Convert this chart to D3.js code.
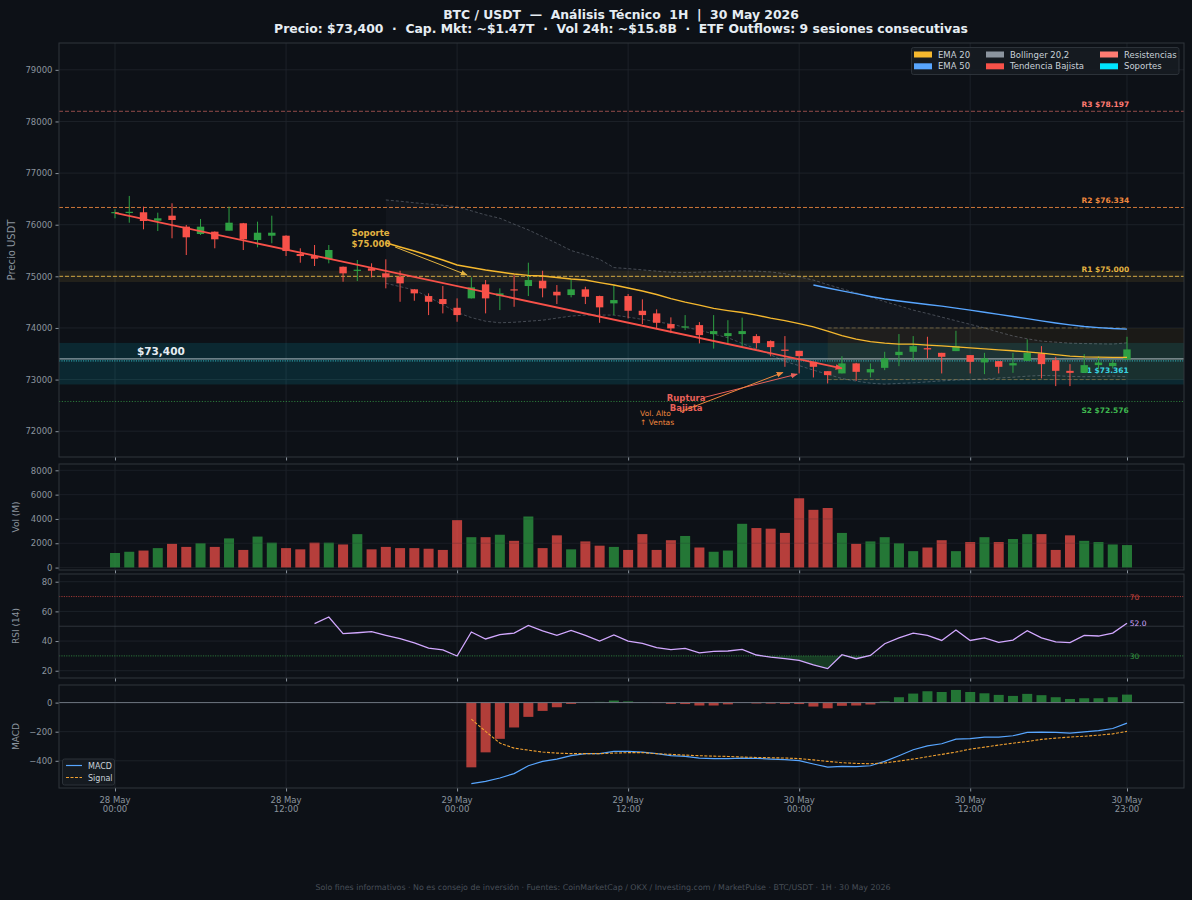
<!DOCTYPE html>
<html>
<head>
<meta charset="utf-8">
<script src="https://cdn.jsdelivr.net/npm/d3@7"></script>
<style>
  body { margin: 0; background: #0d1117; }
  svg { display: block; font-family: "DejaVu Sans", sans-serif; }
</style>
</head>
<body>
<svg id="chart" width="1192" height="900"></svg>
<script>
// hourly candles, 28 May 00:00 -> 30 May 23:00
var openP  = [76235,76230,76241,76078,76175,75962,75820,75865,75884,76028,75704,75787,75787,75432,75393,75329,75186,75115,75155,75058,
              74992,74748,74618,74560,74391,74573,74845,74618,74748,74812,74915,74701,74637,74748,74618,74476,74618,74333,74282,74075,
              74010,74055,73881,73842,73881,73842,73745,73580,73557,73344,73163,73119,73313,73138,73227,73474,73538,73609,73518,73551,
              73474,73332,73357,73274,73363,73507,73377,73169,73130,73280,73260,73390];
var highP  = [76300,76557,76350,76233,76415,75995,76111,75870,76350,76035,76059,76175,75795,75543,75607,75607,75190,75316,75252,75329,
              75108,74755,74670,74812,74573,74980,74928,74767,75025,75264,75108,74831,74942,74798,74625,74831,74657,74554,74360,74205,
              74249,74113,74249,74150,74200,73880,73760,73842,73557,73344,73163,73454,73324,73313,73538,73881,73842,73829,73518,73945,
              73474,73518,73357,73518,73778,73648,73441,73299,73493,73450,73390,73829];
var lowP   = [76125,76039,75911,75878,75737,75413,75800,75543,75884,75510,75562,75640,75393,75264,75200,75252,74895,74909,74980,74767,
              74507,74527,74249,74282,74120,74570,74282,74346,74410,74618,74593,74463,74593,74463,74100,74249,74185,74075,73991,73900,
              73958,73700,73600,73700,73650,73600,73450,73247,73119,73041,72925,73119,72975,73041,73183,73260,73363,73410,73119,73551,
              73119,73105,73119,73130,73363,73022,72873,72873,73130,73200,73216,73390];
var closeP = [76245,76250,76072,76124,76091,75756,75962,75717,76039,75717,75845,75845,75490,75393,75341,75510,75058,75128,75108,74980,
              74864,74670,74507,74463,74249,74787,74573,74670,74728,74928,74767,74631,74748,74604,74399,74540,74333,74249,74100,73991,
              74030,73861,73939,73900,73939,73706,73629,73560,73454,73247,73086,73313,73150,73202,73410,73538,73648,73584,73441,73648,
              73344,73410,73247,73318,73518,73299,73169,73130,73280,73330,73324,73584];
var volume = [1200,1300,1400,1600,1950,1700,2000,1700,2400,1450,2550,2050,1600,1500,2050,2050,1900,2750,1500,1700,
              1600,1600,1550,1450,3900,2500,2500,2700,2200,4200,1600,2650,1500,2150,1800,1700,1450,2750,1450,2250,
              2600,1650,1300,1400,3600,3250,3200,2850,5700,4750,4900,2850,1950,2150,2500,2000,1350,1650,2250,1350,
              2100,2500,2100,2350,2750,2750,1450,2650,2200,2100,1900,1850];

// indicators (first valid hour noted)
var ema20Start = 19;
var ema20 = [75650,75568,75490,75403,75316,75219,75170,75122,75083,75044,75019,75006,74977,74947,74928,74879,74831,74773,74715,74647,
             74569,74501,74443,74379,74336,74298,74249,74191,74143,74084,74022,73939,73852,73784,73735,73706,73687,73687,73668,73652,
             73633,73613,73594,73575,73557,73536,73512,73483,73454,73439,73435,73429,73429];
var ema50Start = 49;
var ema50 = [74831,74775,74718,74664,74610,74560,74522,74488,74455,74422,74385,74346,74305,74263,74221,74180,74138,74097,74060,74027,
             74007,73989,73978];
var bbStart = 19;
var bbUpper = [76479,76455,76425,76400,76378,76345,76270,76190,76125,76010,75900,75770,75640,75500,75420,75330,75170,75150,75125,75100,
               75080,75072,75080,75089,75098,75105,75100,75085,75050,74990,74928,74840,74760,74680,74600,74510,74430,74346,74280,74210,
               74140,74070,74000,73920,73845,73790,73745,73725,73705,73698,73693,73688,73712];
var bbLower = [74864,74800,74734,74600,74450,74300,74200,74130,74100,74110,74130,74150,74190,74230,74249,74249,74249,74210,74165,74120,
               74075,74010,73960,73880,73810,73700,73590,73480,73350,73270,73183,73100,73020,72970,72930,72911,72925,72937,72955,72975,
               72990,73000,73010,73030,73045,73065,73080,73075,73060,73055,73060,73067,73053];
var rsiStart = 14;
var rsi = [51.7,56.2,45.0,45.6,46.3,43.9,41.6,38.7,35.3,34.0,29.9,46.1,41.4,44.3,45.4,50.5,46.8,43.8,47.2,43.8,
           40.0,44.1,40.0,38.4,35.5,34.2,35.0,32.1,33.0,33.3,34.4,30.6,29.2,28.1,27.0,23.9,21.4,30.8,28.1,30.3,
           38.2,42.1,45.4,43.8,40.4,47.4,40.4,42.1,39.1,40.7,47.0,42.1,39.4,38.9,43.8,43.4,45.4,52.0];
var macdStart = 25;
var macdLine = [-557,-541,-518,-488,-434,-404,-388,-365,-351,-351,-335,-335,-340,-351,-365,-370,-381,-385,-385,-381,
                -383,-388,-392,-399,-422,-443,-438,-440,-434,-404,-365,-324,-297,-283,-251,-247,-237,-237,-228,-205,
                -203,-205,-210,-201,-192,-178,-141];
var signalLine = [-114,-198,-278,-313,-327,-340,-347,-351,-351,-351,-347,-344,-344,-351,-356,-361,-365,-368,-370,-374,
                  -377,-379,-381,-385,-394,-404,-413,-418,-420,-415,-402,-388,-372,-356,-340,-320,-306,-292,-279,-267,
                  -253,-244,-237,-231,-224,-215,-198];
var macdHist = [-445,-342,-249,-171,-98,-57,-32,-9,3,5,14,8,2,-3,-9,-10,-20,-20,-12,-1,
                -6,-7,-9,-10,-27,-39,-22,-20,-13,8,37,62,78,73,87,73,64,53,46,60,
                51,37,25,30,30,37,55];

// levels
var levels = [
  {name: "R3", price: 78197, text: "R3 $78.197", color: "#ff7b72", dash: "4,2", alpha: 0.55, above: true},
  {name: "R2", price: 76334, text: "R2 $76.334", color: "#f0883e", dash: "4,2", alpha: 0.85, above: true},
  {name: "R1", price: 75000, text: "R1 $75.000", color: "#e3b341", dash: "4,2", alpha: 0.9, above: true},
  {name: "S1", price: 73361, text: "S1 $73.361", color: "#39d5e0", dash: "1.2,1.2", alpha: 0.8, above: false},
  {name: "S2", price: 72576, text: "S2 $72.576", color: "#3fb950", dash: "1.2,1.6", alpha: 0.6, above: false}
];
var currentPrice = 73400;
var priceTicks = [72000,73000,74000,75000,76000,77000,78000,79000];
var volTicks = [0,2000,4000,6000,8000];
var rsiTicks = [20,40,60,80];
var macdTicks = [-400,-200,0];
var tickHours = [0,12,24,36,48,60,71];

var UP = "#2ea043", DOWN = "#f85149";
var TXT = "#8b949e", GRID = "#21262d", EDGE = "#30363d";

var t0 = new Date(2026, 4, 28, 0, 0);
function hourDate(h) { return new Date(t0.getTime() + h * 3600e3); }

var svg = d3.select("#chart");
svg.append("rect").attr("width", 1192).attr("height", 900).attr("fill", "#0d1117");
var defs = svg.append("defs");

var left = 59, right = 1184;
var x = d3.scaleTime().domain([hourDate(-3.93), hourDate(75)]).range([left, right]);
var yP = d3.scaleLinear().domain([71500, 79520]).range([457, 43]);
var yV = d3.scaleLinear().domain([-200, 8520]).range([570, 464]);
var yR = d3.scaleLinear().domain([15.1, 85.2]).range([678, 574]);
var yM = d3.scaleLinear().domain([-587, 121]).range([788, 685]);
var tickDates = tickHours.map(hourDate);
var xh = function(h) { return x(hourDate(h)); };
var numFmt = function(d) { return d3.format("d")(d).replace("-", "\u2212"); };

function arrowMarker(id, color) {
  defs.append("marker").attr("id", id)
    .attr("viewBox", "0 0 10 10").attr("refX", 9).attr("refY", 5)
    .attr("markerUnits", "userSpaceOnUse").attr("markerWidth", 7).attr("markerHeight", 7)
    .attr("orient", "auto")
    .append("path").attr("d", "M0,1L10,5L0,9z").attr("fill", color);
}
arrowMarker("arr-red", "#f85149");
arrowMarker("arr-yellow", "#e3b341");
arrowMarker("arr-orange", "#f0883e");
arrowMarker("arr-salmon", "#e8605a");

// build one panel: background, grid, axes, clip
function makePanel(id, y, ticks, label) {
  var r = y.range();
  var top = r[1], bottom = r[0];
  var g = svg.append("g");
  g.append("rect").attr("x", left).attr("y", top).attr("width", right - left).attr("height", bottom - top)
    .attr("fill", "#0d1117");
  defs.append("clipPath").attr("id", "clip-" + id)
    .append("rect").attr("x", left).attr("y", top).attr("width", right - left).attr("height", bottom - top);

  g.selectAll(".vg").data(tickDates).enter().append("line")
    .attr("x1", function(d) { return x(d); }).attr("x2", function(d) { return x(d); })
    .attr("y1", top).attr("y2", bottom).attr("stroke", GRID).attr("stroke-width", 0.8);
  g.selectAll(".hg").data(ticks).enter().append("line")
    .attr("x1", left).attr("x2", right)
    .attr("y1", function(d) { return y(d); }).attr("y2", function(d) { return y(d); })
    .attr("stroke", GRID).attr("stroke-width", 0.8);

  var ya = g.append("g").attr("transform", "translate(" + left + ",0)")
    .call(d3.axisLeft(y).tickValues(ticks).tickFormat(numFmt).tickSize(3.5).tickPadding(3));
  ya.select(".domain").remove();
  ya.selectAll("line").attr("stroke", TXT);
  ya.selectAll("text").attr("fill", TXT).style("font-size", "8.5px").style("font-family", "DejaVu Sans");

  var xa = g.append("g").attr("transform", "translate(0," + bottom + ")")
    .call(d3.axisBottom(x).tickValues(tickDates).tickSize(3.5).tickFormat(""));
  xa.select(".domain").remove();
  xa.selectAll("line").attr("stroke", TXT);

  var mid = (top + bottom) / 2;
  svg.append("text").attr("transform", "translate(" + (label.x) + "," + mid + ") rotate(-90)")
    .attr("text-anchor", "middle").attr("fill", TXT).style("font-size", label.size)
    .text(label.text);

  var content = svg.append("g").attr("clip-path", "url(#clip-" + id + ")");
  return {g: g, content: content, top: top, bottom: bottom};
}

function border(p) {
  svg.append("rect").attr("x", left).attr("y", p.top).attr("width", right - left).attr("height", p.bottom - p.top)
    .attr("fill", "none").attr("stroke", EDGE).attr("stroke-width", 1);
}

// ---------- price panel ----------
var pP = makePanel("price", yP, priceTicks, {x: 15, text: "Precio USDT", size: "10px"});
var c = pP.content;

// current price zone + R1 zone + consolidation box
c.append("rect").attr("x", left).attr("width", right - left)
  .attr("y", yP(73710)).attr("height", yP(72905) - yP(73710))
  .attr("fill", "#00d8f0").attr("opacity", 0.12);
c.append("rect").attr("x", left).attr("width", right - left)
  .attr("y", yP(75110)).attr("height", yP(74890) - yP(75110))
  .attr("fill", "#e3b341").attr("opacity", 0.1);
c.append("rect").attr("x", xh(50)).attr("width", right - xh(50))
  .attr("y", yP(74000)).attr("height", yP(73000) - yP(74000))
  .attr("fill", "#d29922").attr("opacity", 0.07);
[74000, 73000].forEach(function(v) {
  c.append("line").attr("x1", xh(50)).attr("x2", xh(71))
    .attr("y1", yP(v)).attr("y2", yP(v))
    .attr("stroke", "#a08850").attr("stroke-width", 1).attr("stroke-dasharray", "4,2").attr("opacity", 0.6);
});

// bollinger
var bbData = bbUpper.map(function(v, i) { return {h: i + bbStart, u: v, l: bbLower[i]}; });
c.append("path").datum(bbData)
  .attr("d", d3.area().x(function(d) { return xh(d.h); }).y0(function(d) { return yP(d.l); }).y1(function(d) { return yP(d.u); }))
  .attr("fill", "#8b949e").attr("opacity", 0.045);
["u", "l"].forEach(function(k) {
  c.append("path").datum(bbData)
    .attr("d", d3.line().x(function(d) { return xh(d.h); }).y(function(d) { return yP(d[k]); }))
    .attr("fill", "none").attr("stroke", "#8b949e").attr("stroke-width", 0.8)
    .attr("stroke-dasharray", "3,2").attr("opacity", 0.55);
});

// level lines
levels.forEach(function(lv) {
  c.append("line").attr("x1", left).attr("x2", right)
    .attr("y1", yP(lv.price)).attr("y2", yP(lv.price))
    .attr("stroke", lv.color).attr("stroke-width", 1).attr("stroke-dasharray", lv.dash).attr("opacity", lv.alpha);
  c.append("text").attr("x", xh(67.8)).attr("y", yP(lv.price) + (lv.above ? -4.5 : 12))
    .attr("fill", lv.color).style("font-size", "7.5px").style("font-weight", "bold")
    .text(lv.text);
});
c.append("line").attr("x1", left).attr("x2", right)
  .attr("y1", yP(currentPrice)).attr("y2", yP(currentPrice))
  .attr("stroke", "#e6edf3").attr("stroke-width", 1).attr("opacity", 0.75);
c.append("text").attr("x", xh(1.54)).attr("y", yP(currentPrice) - 4)
  .attr("fill", "#e6edf3").style("font-size", "10.5px").style("font-weight", "bold")
  .text("$" + d3.format(",")(currentPrice));

// candles
var candles = openP.map(function(o, i) {
  return {h: i, o: o, hi: highP[i], lo: lowP[i], c: closeP[i], v: volume[i]};
});
var cw = 7.4;
var cg = c.append("g");
cg.selectAll(".wick").data(candles).enter().append("line")
  .attr("x1", function(d) { return xh(d.h); }).attr("x2", function(d) { return xh(d.h); })
  .attr("y1", function(d) { return yP(d.hi); }).attr("y2", function(d) { return yP(d.lo); })
  .attr("stroke", function(d) { return d.c >= d.o ? UP : DOWN; }).attr("stroke-width", 1);
cg.selectAll(".body").data(candles).enter().append("rect")
  .attr("x", function(d) { return xh(d.h) - cw / 2; }).attr("width", cw)
  .attr("y", function(d) { return yP(Math.max(d.o, d.c)); })
  .attr("height", function(d) { return Math.max(1.2, Math.abs(yP(d.o) - yP(d.c))); })
  .attr("fill", function(d) { return d.c >= d.o ? UP : DOWN; });

// trend line
c.append("line").attr("x1", xh(0)).attr("y1", yP(76227)).attr("x2", xh(51)).attr("y2", yP(73216))
  .attr("stroke", DOWN).attr("stroke-width", 1.8).attr("marker-end", "url(#arr-red)");

// EMAs
var lineP = d3.line().x(function(d) { return xh(d.h); }).y(function(d) { return yP(d.v); });
c.append("path").datum(ema20.map(function(v, i) { return {h: i + ema20Start, v: v}; }))
  .attr("d", lineP).attr("fill", "none").attr("stroke", "#f5b82e").attr("stroke-width", 1.4);
c.append("path").datum(ema50.map(function(v, i) { return {h: i + ema50Start, v: v}; }))
  .attr("d", lineP).attr("fill", "none").attr("stroke", "#58a6ff").attr("stroke-width", 1.4);

// annotations
function annot(lines, hx, py, color, size, weight, anchor) {
  var t = c.append("text").attr("x", xh(hx)).attr("y", yP(py)).attr("fill", color)
    .attr("text-anchor", anchor).style("font-size", size).style("font-weight", weight);
  lines.forEach(function(s, i) {
    t.append("tspan").attr("x", xh(hx)).attr("dy", i === 0 ? 0 : "1.2em").text(s);
  });
}
function arrow(h1, p1, h2, p2, color, marker) {
  c.append("line").attr("x1", xh(h1)).attr("y1", yP(p1)).attr("x2", xh(h2)).attr("y2", yP(p2))
    .attr("stroke", color).attr("stroke-width", 1).attr("marker-end", "url(#" + marker + ")");
}
annot(["Soporte", "$75.000"], 16.6, 75775, "#e3b341", "8.5px", "bold", "start");
arrow(19.65, 75568, 24.7, 75025, "#e3b341", "arr-yellow");
annot(["Ruptura", "Bajista"], 40.07, 72590, "#e8605a", "8.5px", "bold", "middle");
arrow(41.4, 72659, 47.86, 73105, "#e8605a", "arr-salmon");
annot(["Vol. Alto", "\u2191 Ventas"], 36.84, 72295, "#f0883e", "7.5px", "normal", "start");
arrow(39.65, 72374, 46.86, 73138, "#f0883e", "arr-orange");

border(pP);

// legend
var legItems = [
  {t: "EMA 20", c: "#f5b82e", col: 0, row: 0},
  {t: "EMA 50", c: "#58a6ff", col: 0, row: 1},
  {t: "Bollinger 20,2", c: "#8b949e", col: 1, row: 0},
  {t: "Tendencia Bajista", c: "#f85149", col: 1, row: 1},
  {t: "Resistencias", c: "#ff7b72", col: 2, row: 0},
  {t: "Soportes", c: "#00e5ff", col: 2, row: 1}
];
var colX = [914, 986, 1100];
var leg = svg.append("g");
leg.append("rect").attr("x", 911.5).attr("y", 47.5).attr("width", 267.5).attr("height", 27).attr("rx", 2)
  .attr("fill", "#161b22").attr("opacity", 0.9).attr("stroke", EDGE);
legItems.forEach(function(d) {
  var yy = 51.5 + d.row * 11.8;
  leg.append("rect").attr("x", colX[d.col]).attr("y", yy).attr("width", 18).attr("height", 6).attr("fill", d.c);
  leg.append("text").attr("x", colX[d.col] + 24).attr("y", yy + 6).attr("fill", "#c9d1d9")
    .style("font-size", "8.5px").text(d.t);
});

// ---------- volume panel ----------
var pV = makePanel("vol", yV, volTicks, {x: 19, text: "Vol (M)", size: "9px"});
pV.content.selectAll(".vb").data(candles).enter().append("rect")
  .attr("x", function(d) { return xh(d.h) - 5; }).attr("width", 10)
  .attr("y", function(d) { return yV(d.v); }).attr("height", function(d) { return yV(0) - yV(d.v); })
  .attr("fill", function(d) { return d.c >= d.o ? UP : DOWN; }).attr("opacity", 0.72);
pV.content.selectAll(".vg2").data(volTicks).enter().append("line")
  .attr("x1", left).attr("x2", right).attr("y1", function(d) { return yV(d); }).attr("y2", function(d) { return yV(d); })
  .attr("stroke", "#0d1117").attr("stroke-width", 0.6).attr("opacity", 0.35);
border(pV);

// ---------- RSI panel ----------
var pR = makePanel("rsi", yR, rsiTicks, {x: 19, text: "RSI (14)", size: "9px"});
var rc = pR.content;
var rsiData = rsi.map(function(v, i) { return {h: i + rsiStart, v: v}; });
rc.append("line").attr("x1", left).attr("x2", right).attr("y1", yR(50)).attr("y2", yR(50))
  .attr("stroke", "#484f58").attr("stroke-width", 0.8).attr("opacity", 0.7);
rc.append("line").attr("x1", left).attr("x2", right).attr("y1", yR(70)).attr("y2", yR(70))
  .attr("stroke", "#f85149").attr("stroke-width", 1).attr("stroke-dasharray", "1.2,1.2").attr("opacity", 0.6);
rc.append("line").attr("x1", left).attr("x2", right).attr("y1", yR(30)).attr("y2", yR(30))
  .attr("stroke", "#3fb950").attr("stroke-width", 1).attr("stroke-dasharray", "1.2,1.2").attr("opacity", 0.6);
rc.append("path").datum(rsiData)
  .attr("d", d3.area().x(function(d) { return xh(d.h); }).y0(yR(30)).y1(function(d) { return yR(Math.min(d.v, 30)); }))
  .attr("fill", "#2ea043").attr("opacity", 0.3);
rc.append("path").datum(rsiData)
  .attr("d", d3.line().x(function(d) { return xh(d.h); }).y(function(d) { return yR(d.v); }))
  .attr("fill", "none").attr("stroke", "#d2a8ff").attr("stroke-width", 1.3);
[[70, "70", "#f85149"], [30, "30", "#3fb950"], [rsi[rsi.length - 1], rsi[rsi.length - 1].toFixed(1), "#d2a8ff"]].forEach(function(a) {
  rc.append("text").attr("x", xh(71.2)).attr("y", yR(a[0]) + 3).attr("fill", a[2])
    .attr("opacity", a[0] === 70 || a[0] === 30 ? 0.8 : 1)
    .style("font-size", "7.5px").text(a[1]);
});
border(pR);

// ---------- MACD panel ----------
var pM = makePanel("macd", yM, macdTicks, {x: 19, text: "MACD", size: "9px"});
var mc = pM.content;
mc.selectAll(".mh").data(macdHist.map(function(v, i) { return {h: i + macdStart, v: v}; })).enter().append("rect")
  .attr("x", function(d) { return xh(d.h) - 5; }).attr("width", 10)
  .attr("y", function(d) { return yM(Math.max(0, d.v)); })
  .attr("height", function(d) { return Math.abs(yM(d.v) - yM(0)); })
  .attr("fill", function(d) { return d.v >= 0 ? UP : DOWN; }).attr("opacity", 0.7);
mc.append("line").attr("x1", left).attr("x2", right).attr("y1", yM(0)).attr("y2", yM(0))
  .attr("stroke", "#6e7681").attr("stroke-width", 1);
var lineM = d3.line().x(function(d) { return xh(d.h); }).y(function(d) { return yM(d.v); });
mc.append("path").datum(macdLine.map(function(v, i) { return {h: i + macdStart, v: v}; }))
  .attr("d", lineM).attr("fill", "none").attr("stroke", "#58a6ff").attr("stroke-width", 1.2);
mc.append("path").datum(signalLine.map(function(v, i) { return {h: i + macdStart, v: v}; }))
  .attr("d", lineM).attr("fill", "none").attr("stroke", "#f0a030").attr("stroke-width", 1.1)
  .attr("stroke-dasharray", "3,1.5");
border(pM);

var ml = svg.append("g");
ml.append("rect").attr("x", 62.5).attr("y", 759).attr("width", 52).attr("height", 26).attr("rx", 2)
  .attr("fill", "#161b22").attr("opacity", 0.9).attr("stroke", EDGE);
ml.append("line").attr("x1", 66).attr("x2", 82).attr("y1", 765.5).attr("y2", 765.5).attr("stroke", "#58a6ff").attr("stroke-width", 1.2);
ml.append("line").attr("x1", 66).attr("x2", 82).attr("y1", 777.5).attr("y2", 777.5).attr("stroke", "#f0a030")
  .attr("stroke-width", 1.1).attr("stroke-dasharray", "3,1.5");
ml.append("text").attr("x", 88).attr("y", 768.5).attr("fill", "#c9d1d9").style("font-size", "8px").text("MACD");
ml.append("text").attr("x", 88).attr("y", 780.5).attr("fill", "#c9d1d9").style("font-size", "8px").text("Signal");

// x tick labels under MACD
var fmtDay = d3.timeFormat("%d %b"), fmtHour = d3.timeFormat("%H:%M");
var xl = svg.append("g");
tickDates.forEach(function(d) {
  var t = xl.append("text").attr("x", x(d)).attr("y", 803).attr("text-anchor", "middle")
    .attr("fill", TXT).style("font-size", "8.5px");
  t.append("tspan").attr("x", x(d)).text(fmtDay(d));
  t.append("tspan").attr("x", x(d)).attr("dy", "1.1em").text(fmtHour(d));
});

// titles
svg.append("text").attr("x", 621).attr("y", 19).attr("text-anchor", "middle").attr("fill", "#e6edf3")
  .style("font-size", "12.4px").style("font-weight", "bold").style("white-space", "pre")
  .text("BTC / USDT  \u2014  An\u00e1lisis T\u00e9cnico  1H  |  30 May 2026");
svg.append("text").attr("x", 621).attr("y", 33).attr("text-anchor", "middle").attr("fill", "#e6edf3")
  .style("font-size", "12.4px").style("font-weight", "bold").style("white-space", "pre")
  .text("Precio: $73,400  \u00b7  Cap. Mkt: ~$1.47T  \u00b7  Vol 24h: ~$15.8B  \u00b7  ETF Outflows: 9 sesiones consecutivas");
svg.append("text").attr("x", 603).attr("y", 890).attr("text-anchor", "middle").attr("fill", "#484f58")
  .style("font-size", "7.9px")
  .text("Solo fines informativos \u00b7 No es consejo de inversi\u00f3n \u00b7 Fuentes: CoinMarketCap / OKX / Investing.com / MarketPulse \u00b7 BTC/USDT \u00b7 1H \u00b7 30 May 2026");
</script>
</body>
</html>
